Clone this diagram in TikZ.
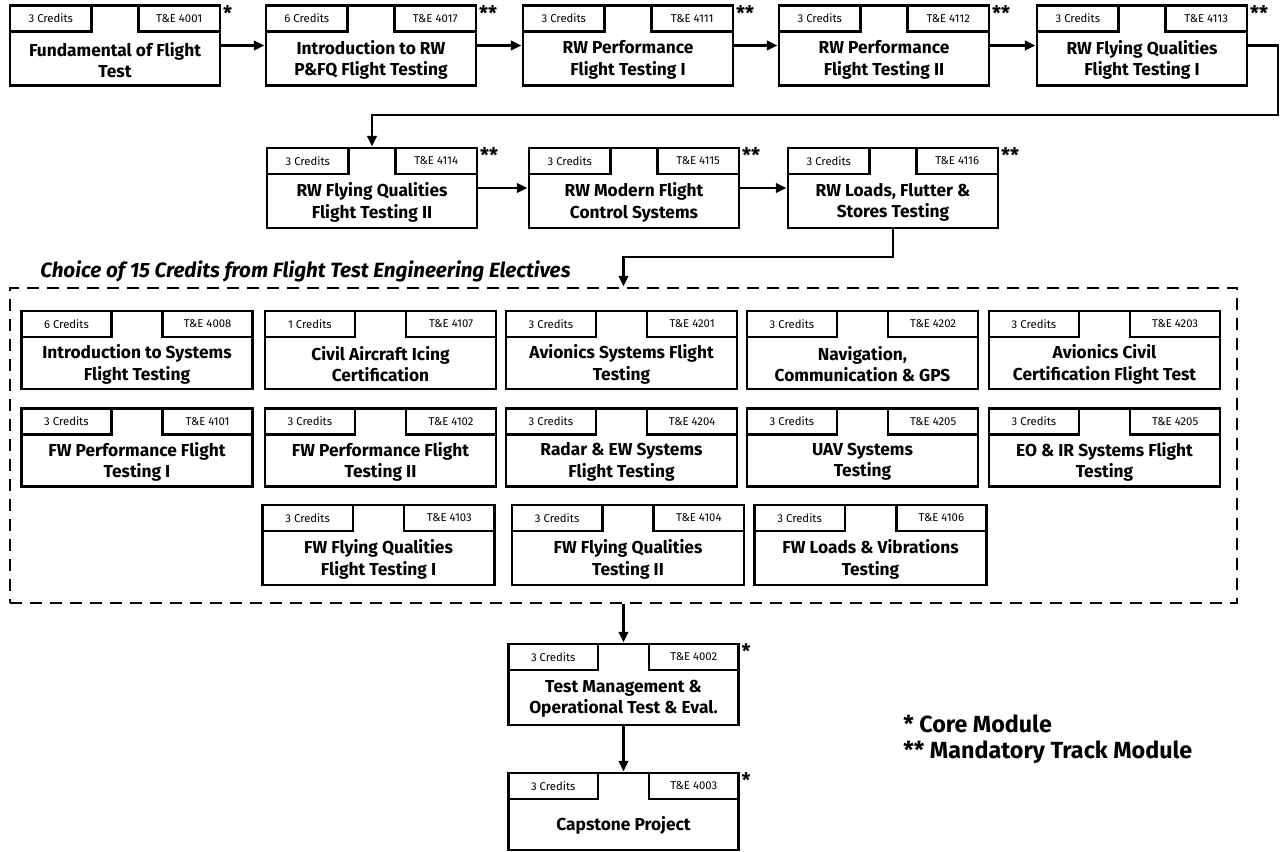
\documentclass[tikz,border=0pt]{standalone}
\usepackage{fontspec}
\setmainfont{Fira Sans}
\usepackage{tikz}
\usetikzlibrary{calc,positioning,arrows.meta}
\newcommand{\unitpx}{0.75pt}
\tikzset{
  box/.style={draw, line width=2.2pt, inner sep=0pt},
  tab/.style={draw, line width=2pt, inner sep=0pt, font=\fontsize{8.5}{9}\selectfont},
  ttl/.style={align=center, inner sep=0pt, font=\fontsize{13}{16}\selectfont\bfseries},
  starlbl/.style={anchor=north west, inner sep=1pt, font=\fontsize{15}{15}\selectfont\bfseries},
  link/.style={line width=2pt, -{Triangle[length=8pt,width=7pt]}},
  dashbox/.style={draw, line width=2.2pt, dash pattern=on 9pt off 6pt},
  head/.style={anchor=west, inner sep=0pt, font=\fontsize{15.5}{17}\selectfont\bfseries\itshape},
  note/.style={anchor=west, inner sep=0pt, font=\fontsize{17.5}{20}\selectfont\bfseries},
}
% #1 name, #2 centre, #3 width, #4 height, #5 credits, #6 code, #7 title, #8 stars
\newcommand{\course}[8]{%
  \node[box, minimum width={#3*\unitpx}, minimum height={#4*\unitpx}] (#1) at (#2) {};
  \node[tab, anchor=north west, minimum width={0.39*#3*\unitpx}, minimum height={26*\unitpx}] (#1c) at (#1.north west) {#5};
  \node[tab, anchor=north east, minimum width={0.39*#3*\unitpx}, minimum height={26*\unitpx}] (#1n) at (#1.north east) {#6};
  \node[ttl] (#1t) at ($(#1c.south west)!.5!(#1.south east)$) {#7};
  \if\relax\detokenize{#8}\relax\else\node[starlbl] (#1s) at (#1.north east) {#8};\fi
}

\begin{document}
\begin{tikzpicture}[x=0.75pt,y=-0.75pt]
  \useasboundingbox (0,0) rectangle (1284,851);

  % mandatory track
  \course{m1}{115,45.5}{210}{80}{3 Credits}{T\&E 4001}{Fundamental of Flight\\Test}{*}
  \course{m2}{371,45.5}{210}{80}{6 Credits}{T\&E 4017}{Introduction to RW\\P\&FQ Flight Testing}{**}
  \course{m3}{628,45.5}{210}{80}{3 Credits}{T\&E 4111}{RW Performance\\Flight Testing I}{**}
  \course{m4}{884,45.5}{210}{80}{3 Credits}{T\&E 4112}{RW Performance\\Flight Testing II}{**}
  \course{m5}{1142,45.5}{210}{80}{3 Credits}{T\&E 4113}{RW Flying Qualities\\Flight Testing I}{**}
  \course{m6}{372,188}{210}{80}{3 Credits}{T\&E 4114}{RW Flying Qualities\\Flight Testing II}{**}
  \course{m7}{634,188}{210}{80}{3 Credits}{T\&E 4115}{RW Modern Flight\\Control Systems}{**}
  \course{m8}{893,188}{210}{80}{3 Credits}{T\&E 4116}{RW Loads, Flutter \&\\Stores Testing}{**}

  % electives
  \node[head] (hd) at (40,271) {Choice of 15 Credits from Flight Test Engineering Electives};
  \node[dashbox, minimum width={1227*\unitpx}, minimum height={315*\unitpx}] (elec) at (623.5,445.5) {};
  \course{e1}{137,350}{231}{78}{6 Credits}{T\&E 4008}{Introduction to Systems\\Flight Testing}{}
  \course{e2}{380.5,350}{231}{78}{1 Credits}{T\&E 4107}{Civil Aircraft Icing\\Certification}{}
  \course{e3}{621.5,350}{231}{78}{3 Credits}{T\&E 4201}{Avionics Systems Flight\\Testing}{}
  \course{e4}{862.5,350}{231}{78}{3 Credits}{T\&E 4202}{Navigation,\\Communication \& GPS}{}
  \course{e5}{1104.5,350}{231}{78}{3 Credits}{T\&E 4203}{Avionics Civil\\Certification Flight Test}{}
  \course{e6}{137,447.5}{231}{78}{3 Credits}{T\&E 4101}{FW Performance Flight\\Testing I}{}
  \course{e7}{380.5,447.5}{231}{78}{3 Credits}{T\&E 4102}{FW Performance Flight\\Testing II}{}
  \course{e8}{621.5,447.5}{231}{78}{3 Credits}{T\&E 4204}{Radar \& EW Systems\\Flight Testing}{}
  \course{e9}{862.5,447.5}{231}{78}{3 Credits}{T\&E 4205}{UAV Systems\\Testing}{}
  \course{e10}{1104.5,447.5}{231}{78}{3 Credits}{T\&E 4205}{EO \& IR Systems Flight\\Testing}{}
  \course{e11}{378.5,545}{232}{80}{3 Credits}{T\&E 4103}{FW Flying Qualities\\Flight Testing I}{}
  \course{e12}{628,545}{232}{80}{3 Credits}{T\&E 4104}{FW Flying Qualities\\Testing II}{}
  \course{e13}{870.5,545}{232}{80}{3 Credits}{T\&E 4106}{FW Loads \& Vibrations\\Testing}{}

  % core
  \course{tm}{623.5,684.5}{230}{81}{3 Credits}{T\&E 4002}{Test Management \&\\Operational Test \& Eval.}{*}
  \course{cap}{623.5,811.5}{230}{77}{3 Credits}{T\&E 4003}{Capstone Project}{*}

  \node[note] (k1) at (903,724) {* Core Module};
  \node[note] (k2) at (903,752) {** Mandatory Track Module};

  % flow
  \coordinate (t1) at (1278,115);
  \coordinate (t2) at (623.5,257);
  \draw[link] (m1) -- (m2);
  \draw[link] (m2) -- (m3);
  \draw[link] (m3) -- (m4);
  \draw[link] (m4) -- (m5);
  \draw[link] (m5.east) -| (t1) -| (m6.north);
  \draw[link] (m6) -- (m7);
  \draw[link] (m7) -- (m8);
  \draw[link] (m8.south) |- (t2) -- (elec.north);
  \draw[link] (elec.south) -- (tm.north);
  \draw[link] (tm.south) -- (cap.north);
\end{tikzpicture}
\end{document}
